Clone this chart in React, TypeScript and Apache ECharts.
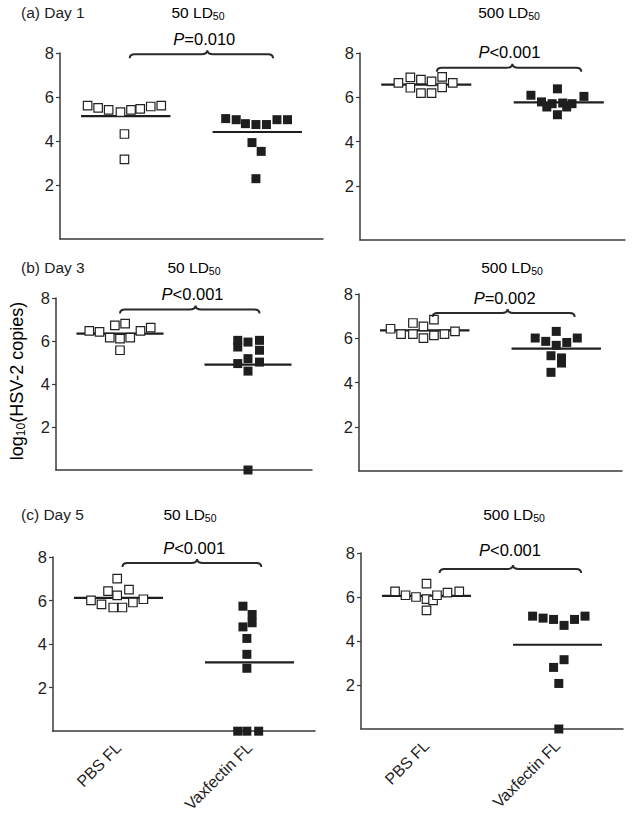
import React, { useEffect, useRef } from "react";
import * as echarts from "echarts";

const FONT = "'Liberation Sans', Arial, Helvetica, sans-serif";
const INK = "#1e1e1e";
const AXIS = "#3a3a3a";

const categories = ["PBS FL", "Vaxfectin FL"];
const yTicks = [2, 4, 6, 8];

// Day 1, 50 LD50
const d1_50_pbsX = [0.71, 0.79, 0.87, 0.96, 1.04, 1.11, 1.19, 1.27, 0.99, 0.99];
const d1_50_pbsY = [5.61, 5.51, 5.42, 5.31, 5.42, 5.46, 5.57, 5.61, 4.32, 3.17];
const d1_50_vaxX = [1.76, 1.84, 1.91, 1.99, 2.07, 2.15, 2.23, 1.96, 2.03, 1.99];
const d1_50_vaxY = [5.02, 4.97, 4.79, 4.75, 4.75, 4.97, 4.97, 3.93, 3.53, 2.29];
const d1_50_means = [5.13, 4.41];
// Day 1, 500 LD50
const d1_500_pbsX = [0.79, 0.88, 0.88, 0.96, 0.96, 1.04, 1.04, 1.12, 1.12, 1.2];
const d1_500_pbsY = [6.65, 6.9, 6.43, 6.8, 6.19, 6.72, 6.19, 6.92, 6.45, 6.65];
const d1_500_vaxX = [1.79, 1.87, 1.91, 1.95, 1.99, 1.99, 2.03, 2.06, 2.1, 2.19];
const d1_500_vaxY = [6.09, 5.79, 5.56, 5.71, 6.38, 5.21, 5.74, 5.56, 5.71, 6.04];
const d1_500_means = [6.57, 5.77];
// Day 3, 50 LD50
const d3_50_pbsX = [0.76, 0.84, 0.92, 0.96, 1.0, 1.0, 1.04, 1.08, 1.16, 1.24];
const d3_50_pbsY = [6.47, 6.42, 6.16, 6.73, 6.11, 5.57, 6.81, 6.16, 6.47, 6.62];
const d3_50_vaxX = [1.92, 1.92, 2.0, 2.0, 2.0, 2.0, 2.09, 2.09, 2.09, 1.92];
const d3_50_vaxY = [6.03, 5.72, 5.95, 5.18, 4.6, 0, 6.03, 5.57, 5.02, 4.95];
const d3_50_means = [6.34, 4.9];
// Day 3, 500 LD50
const d3_500_pbsX = [0.74, 0.82, 0.91, 0.91, 0.99, 0.99, 1.07, 1.07, 1.15, 1.23];
const d3_500_pbsY = [6.43, 6.19, 6.69, 6.19, 6.54, 6.01, 6.84, 6.13, 6.19, 6.31];
const d3_500_vaxX = [1.84, 1.92, 2.0, 2.0, 2.08, 2.16, 1.96, 2.04, 2.04, 1.96];
const d3_500_vaxY = [6.01, 5.86, 6.31, 5.68, 5.81, 6.01, 5.21, 5.11, 4.88, 4.46];
const d3_500_means = [6.36, 5.53];
// Day 5, 50 LD50
const d5_50_pbsX = [0.79, 0.87, 0.92, 0.96, 0.99, 0.99, 1.03, 1.08, 1.11, 1.19];
const d5_50_pbsY = [6.01, 5.82, 6.43, 5.68, 6.24, 7.01, 5.68, 6.5, 5.91, 6.06];
const d5_50_vaxX = [1.95, 2.02, 1.95, 2.02, 1.98, 1.98, 1.98, 1.91, 1.98, 2.07];
const d5_50_vaxY = [5.74, 5.36, 4.79, 4.98, 4.26, 3.53, 2.89, 0, 0, 0];
const d5_50_means = [6.12, 3.16];
// Day 5, 500 LD50
const d5_500_pbsX = [0.76, 0.84, 0.92, 1.0, 1.0, 1.05, 1.0, 1.08, 1.16, 1.25];
const d5_500_pbsY = [6.26, 6.08, 6.0, 6.61, 5.9, 5.85, 5.39, 6.08, 6.2, 6.26];
const d5_500_vaxX = [1.81, 1.89, 1.97, 2.05, 2.13, 2.21, 1.97, 2.05, 2.01, 2.01];
const d5_500_vaxY = [5.13, 5.04, 4.98, 4.71, 4.98, 5.13, 2.8, 3.15, 2.07, 0];
const d5_500_means = [6.05, 3.83];

// P-value labels and brace spans [from, to, peak, level]
const pLabels = ["P=0.010", "P<0.001", "P<0.001", "P=0.002", "P<0.001", "P<0.001"];
const braces = [
  [1.03, 2.12, 1.62, 7.94],
  [1.08, 2.17, 1.65, 7.33],
  [1.0, 2.09, 1.59, 7.46],
  [1.06, 2.14, 1.63, 7.14],
  [1.03, 2.09, 1.6, 7.72],
  [1.1, 2.18, 1.66, 7.27],
];
const dayTitles = ["(a) Day 1", "(b) Day 3", "(c) Day 5"];
const doseTitles = ["50 LD", "500 LD"];
const yAxisTitle = "log";

const zip = (xs: number[], ys: number[]) => xs.map((x, i) => [x, ys[i]]);

const panelData = [
  { pbs: zip(d1_50_pbsX, d1_50_pbsY), vax: zip(d1_50_vaxX, d1_50_vaxY), means: d1_50_means },
  { pbs: zip(d1_500_pbsX, d1_500_pbsY), vax: zip(d1_500_vaxX, d1_500_vaxY), means: d1_500_means },
  { pbs: zip(d3_50_pbsX, d3_50_pbsY), vax: zip(d3_50_vaxX, d3_50_vaxY), means: d3_50_means },
  { pbs: zip(d3_500_pbsX, d3_500_pbsY), vax: zip(d3_500_vaxX, d3_500_vaxY), means: d3_500_means },
  { pbs: zip(d5_50_pbsX, d5_50_pbsY), vax: zip(d5_50_vaxX, d5_50_vaxY), means: d5_50_means },
  { pbs: zip(d5_500_pbsX, d5_500_pbsY), vax: zip(d5_500_vaxX, d5_500_vaxY), means: d5_500_means },
];

// layout only
const grids = [
  { left: 60, top: 53, width: 263, height: 186, ymin: -0.45 },
  { left: 360, top: 53, width: 265, height: 187, ymin: -0.45 },
  { left: 56, top: 298, width: 256, height: 172, ymin: 0 },
  { left: 359, top: 294, width: 263, height: 177, ymin: 0 },
  { left: 53, top: 557, width: 262, height: 175, ymin: 0 },
  { left: 361, top: 553, width: 262, height: 176, ymin: 0 },
];
const titleRows = [12, 267, 514];
const doseX = [[198, 509], [194, 512], [190, 514]];
const pOffset = [15, 16, 16, 15, 15, 19];

const subRich = {
  base: { fontSize: 15.5, fontFamily: FONT, color: INK },
  sub: { fontSize: 10.5, fontFamily: FONT, color: INK, padding: [8, 0, 0, 0] },
  p: { fontSize: 16.5, fontFamily: FONT, color: INK },
  i: { fontSize: 16.5, fontFamily: FONT, color: INK, fontStyle: "italic" },
};

export default function App() {
  const ref = useRef<HTMLDivElement>(null);
  useEffect(() => {
    document.body.style.margin = "0";
    if (!ref.current) return;
    const chart = echarts.init(ref.current, null, { renderer: "svg" });

    const xAxis: any[] = [];
    const yAxis: any[] = [];
    const series: any[] = [];
    grids.forEach((g, i) => {
      const showLabels = i >= 4;
      xAxis.push({
        type: "category",
        gridIndex: i,
        data: categories,
        boundaryGap: true,
        axisLine: { onZero: false, lineStyle: { color: AXIS, width: 1.5 } },
        axisTick: { alignWithLabel: true, length: 4, lineStyle: { color: AXIS, width: 1.2 } },
        axisLabel: {
          show: showLabels,
          rotate: 45,
          margin: 14,
          fontSize: 16,
          fontFamily: FONT,
          color: INK,
        },
        splitLine: { show: false },
      });
      xAxis.push({ type: "value", gridIndex: i, min: 0.5, max: 2.5, show: false });
      yAxis.push({
        type: "value",
        gridIndex: i,
        min: g.ymin,
        max: 8,
        axisLine: { show: true, onZero: false, lineStyle: { color: AXIS, width: 1.5 } },
        axisTick: { show: true, length: 4, customValues: yTicks, lineStyle: { color: AXIS, width: 1.2 } },
        axisLabel: { customValues: yTicks, fontSize: 16.5, fontFamily: FONT, color: INK, margin: 6 },
        splitLine: { show: false },
      });
      const d = panelData[i];
      const ax = { xAxisIndex: 2 * i + 1, yAxisIndex: i };
      series.push({
        type: "custom",
        ...ax,
        silent: true,
        z: 2,
        data: d.means.map((m, k) => [k + 1, m]),
        renderItem: (_p: any, api: any) => {
          const cx = api.value(0);
          const m = api.value(1);
          const p1 = api.coord([cx - 0.34, m]);
          const p2 = api.coord([cx + 0.34, m]);
          return {
            type: "line",
            shape: { x1: p1[0], y1: p1[1], x2: p2[0], y2: p2[1] },
            style: { stroke: INK, lineWidth: 2.2 },
          };
        },
      });
      series.push({
        type: "scatter",
        ...ax,
        z: 3,
        symbol: "rect",
        symbolSize: 8.5,
        data: d.pbs,
        itemStyle: { color: "#ffffff", borderColor: "#222", borderWidth: 1.2, opacity: 1 },
      });
      series.push({
        type: "scatter",
        ...ax,
        z: 3,
        symbol: "rect",
        symbolSize: 9,
        data: d.vax,
        itemStyle: { color: INK, opacity: 1 },
      });
      const label = pLabels[i];
      const off = pOffset[i];
      series.push({
        type: "custom",
        ...ax,
        silent: true,
        z: 4,
        clip: false,
        data: [braces[i]],
        renderItem: (_p: any, api: any) => {
          const a = api.coord([api.value(0), api.value(3)]);
          const b = api.coord([api.value(1), api.value(3)]);
          const c = api.coord([api.value(2), api.value(3)]);
          const y = a[1];
          const L = a[0], R = b[0], P = c[0];
          const path =
            `M${L} ${y + 4} Q${L} ${y} ${L + 5} ${y} L${P - 6} ${y} Q${P} ${y} ${P} ${y - 4} ` +
            `Q${P} ${y} ${P + 6} ${y} L${R - 5} ${y} Q${R} ${y} ${R} ${y + 4}`;
          return {
            type: "group",
            children: [
              {
                type: "path",
                shape: { pathData: path },
                style: { fill: "none", stroke: "#2a2a2a", lineWidth: 2 },
              },
              {
                type: "text",
                x: P - 3,
                y: y - off,
                style: {
                  text: `{i|${label[0]}}{p|${label.slice(1)}}`,
                  rich: subRich,
                  align: "center",
                  verticalAlign: "middle",
                },
              },
            ],
          };
        },
      });
    });

    const graphic: any[] = [];
    titleRows.forEach((ty, r) => {
      graphic.push({
        type: "text",
        x: 21,
        y: ty,
        style: { text: dayTitles[r], fontSize: 15.5, fontFamily: FONT, fill: INK, align: "left", verticalAlign: "middle" },
      });
      doseTitles.forEach((dt, c) => {
        graphic.push({
          type: "text",
          x: doseX[r][c],
          y: ty,
          style: {
            text: `{base|${dt}}{sub|50}`,
            rich: subRich,
            align: "center",
            verticalAlign: "middle",
          },
        });
      });
    });
    graphic.push({
      type: "text",
      x: 17,
      y: 381,
      rotation: Math.PI / 2,
      style: {
        text: `{base|${yAxisTitle}}{sub|10}{base|(HSV-2 copies)}`,
        rich: {
          base: { fontSize: 18, fontFamily: FONT, color: INK },
          sub: { fontSize: 12, fontFamily: FONT, color: INK, padding: [8, 0, 0, 0] },
        },
        align: "center",
        verticalAlign: "middle",
      },
    });

    chart.setOption({
      animation: false,
      backgroundColor: "#ffffff",
      textStyle: { fontFamily: FONT },
      grid: grids.map((g) => ({ left: g.left, top: g.top, width: g.width, height: g.height })),
      xAxis,
      yAxis,
      series,
      graphic,
    });
    return () => chart.dispose();
  }, []);
  return <div ref={ref} style={{ width: 633, height: 815 }} />;
}
